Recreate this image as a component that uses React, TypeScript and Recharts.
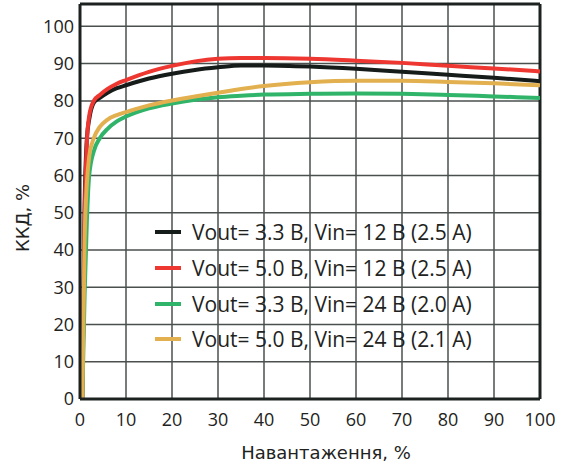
import {
  LineChart,
  Line,
  XAxis,
  YAxis,
  CartesianGrid,
  ReferenceLine,
} from 'recharts';

document.body.style.margin = '0';

// load, %
const LOAD = [0.5, 1, 1.5, 2, 3, 4.3, 6, 8, 10, 15, 20, 25, 30, 35, 40, 50, 60, 70, 80, 90, 100];

// efficiency, %
const EFF_33_12 = [0, 52, 70, 75, 79.5, 80.8, 82.2, 83.4, 84.2, 86, 87.3, 88.3, 89, 89.5, 89.5, 89.2, 88.6, 87.8, 87, 86.2, 85.3];
const EFF_50_12 = [0, 48, 69, 76, 80, 81.6, 83.2, 84.6, 85.6, 87.8, 89.4, 90.6, 91.3, 91.5, 91.5, 91.3, 90.8, 90.2, 89.4, 88.7, 87.9];
const EFF_33_24 = [0, 28, 48, 60, 66.5, 70, 72.5, 74.5, 75.8, 78, 79.3, 80.3, 81, 81.4, 81.7, 81.9, 82, 81.9, 81.6, 81.2, 80.8];
const EFF_50_24 = [0, 42, 58, 65, 70, 73, 75, 76.2, 77, 78.8, 80.1, 81.2, 82.2, 83.2, 84, 85, 85.4, 85.4, 85.1, 84.7, 84.2];

const X_TICKS = [0, 10, 20, 30, 40, 50, 60, 70, 80, 90, 100];
const Y_TICKS = [0, 10, 20, 30, 40, 50, 60, 70, 80, 90, 100];

const SERIES = [
  { key: 'a', label: 'Vout= 3.3 B, Vin= 12 B (2.5 A)', color: '#161c1a', values: EFF_33_12 },
  { key: 'b', label: 'Vout= 5.0 B, Vin= 12 B (2.5 A)', color: '#ee3731', values: EFF_50_12 },
  { key: 'c', label: 'Vout= 3.3 B, Vin= 24 B (2.0 A)', color: '#2fb46a', values: EFF_33_24 },
  { key: 'd', label: 'Vout= 5.0 B, Vin= 24 B (2.1 A)', color: '#e2b04f', values: EFF_50_24 },
];

const data = LOAD.map((x, i) => {
  const row: Record<string, number> = { x };
  SERIES.forEach((s) => {
    row[s.key] = s.values[i];
  });
  return row;
});

const FONT = '"Open Sans", sans-serif';
const TITLE_FONT = '"DejaVu Sans", sans-serif';
const TEXT = '#1e2321';
const FRAME = '#1c2220';

function YTitle() {
  return (
    <text
      x={22}
      y={218}
      transform="rotate(-90 22 218)"
      textAnchor="middle"
      dominantBaseline="central"
      fontSize={18}
      fontFamily={TITLE_FONT}
      fill={TEXT}
    >
      ККД, %
    </text>
  );
}

function XTitle() {
  return (
    <text x={326} y={459} textAnchor="middle" fontSize={18} fontFamily={TITLE_FONT} fill={TEXT}>
      Навантаження, %
    </text>
  );
}

function LegendBox() {
  return (
    <div
      style={{
        position: 'absolute',
        left: 155,
        top: 214.5,
        fontFamily: FONT,
        fontSize: 21,
        color: TEXT,
        pointerEvents: 'none',
      }}
    >
      {SERIES.map((s) => (
        <div key={s.key} style={{ display: 'flex', alignItems: 'center', height: 35.7, whiteSpace: 'nowrap' }}>
          <span style={{ width: 26, height: 4, background: s.color, marginRight: 11 }} />
          <span>{s.label}</span>
        </div>
      ))}
    </div>
  );
}

export default function App() {
  return (
    <div style={{ position: 'relative', width: 565, height: 468, background: '#fff' }}>
      <LineChart width={565} height={468} data={data} margin={{ top: 4, right: 25, bottom: 0, left: 0 }}>
        <CartesianGrid stroke="#4a504e" strokeWidth={1.5} />
        <XAxis
          dataKey="x"
          type="number"
          domain={[0, 100]}
          ticks={X_TICKS}
          interval={0}
          height={69}
          tickSize={0}
          tickMargin={14}
          tickLine={false}
          axisLine={{ stroke: FRAME, strokeWidth: 3 }}
          tick={{ fontSize: 18, fill: TEXT, fontFamily: FONT }}
          label={<XTitle />}
        />
        <YAxis
          type="number"
          domain={[0, 106]}
          ticks={Y_TICKS}
          interval={0}
          width={80}
          tickSize={0}
          tickMargin={6}
          tickLine={false}
          axisLine={{ stroke: FRAME, strokeWidth: 3 }}
          tick={{ fontSize: 18, fill: TEXT, fontFamily: FONT }}
          label={<YTitle />}
        />
        <ReferenceLine x={100} stroke={FRAME} strokeWidth={3} />
        <ReferenceLine y={106} stroke={FRAME} strokeWidth={3} />
        {SERIES.map((s) => (
          <Line
            key={s.key}
            type="monotone"
            dataKey={s.key}
            name={s.label}
            stroke={s.color}
            strokeWidth={4}
            dot={false}
            activeDot={false}
            isAnimationActive={false}
          />
        ))}
      </LineChart>
      <LegendBox />
    </div>
  );
}
